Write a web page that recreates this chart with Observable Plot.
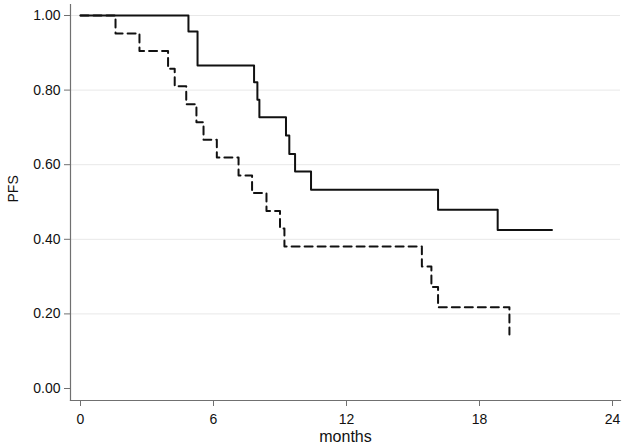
<!DOCTYPE html>
<html>
<head>
<meta charset="utf-8">
<script src="https://cdn.jsdelivr.net/npm/d3@7"></script>
<script src="https://cdn.jsdelivr.net/npm/@observablehq/plot@0.6"></script>
<style>
  html, body { margin: 0; padding: 0; background: #fff; }
  #chart { width: 628px; height: 446px; }
</style>
</head>
<body>
<div id="chart"></div>
<script>
// Kaplan–Meier PFS curves
const solidTimes = [0, 4.87, 5.28, 7.83, 7.98, 8.07, 9.27, 9.42, 9.68, 10.4, 16.13, 18.82, 21.27];
const solidSurv  = [1.00, 0.957, 0.866, 0.821, 0.774, 0.727, 0.678, 0.629, 0.582, 0.533, 0.479, 0.425, 0.425];

const dashedTimes = [0, 1.58, 2.66, 3.95, 4.25, 4.77, 5.23, 5.55, 6.15, 7.13, 7.74, 8.39, 9.0, 9.2, 15.4, 15.83, 16.13, 19.35];
const dashedSurv  = [1.00, 0.952, 0.905, 0.857, 0.810, 0.762, 0.714, 0.667, 0.619, 0.571, 0.524, 0.476, 0.429, 0.381, 0.327, 0.272, 0.218, 0.145];

const xTicks = [0, 6, 12, 18, 24];
const yTicks = [0, 0.2, 0.4, 0.6, 0.8, 1.0];
const yGrid  = [0.2, 0.4, 0.6, 0.8, 1.0];
const xTitle = "months";
const yTitle = "PFS";

const solid  = solidTimes.map((t, i) => ({t, s: solidSurv[i]}));
const dashed = dashedTimes.map((t, i) => ({t, s: dashedSurv[i]}));

const axisColor = "#707070";

const chart = Plot.plot({
  width: 628,
  height: 446,
  marginLeft: 70,
  marginRight: 8,
  marginTop: 4,
  marginBottom: 46,
  insetLeft: 10,
  insetRight: 8,
  insetTop: 11,
  insetBottom: 12,
  style: {fontFamily: "'Liberation Sans', Arial, sans-serif", fontSize: "14px", color: "#111", background: "#fff"},
  x: {domain: [0, 24]},
  y: {domain: [0, 1]},
  marks: [
    Plot.ruleY(yGrid, {stroke: "#e8e8e8", strokeWidth: 1}),
    Plot.frame({anchor: "left", stroke: axisColor, strokeWidth: 1.2}),
    Plot.frame({anchor: "bottom", stroke: axisColor, strokeWidth: 1.2}),
    Plot.axisY(yTicks, {
      tickFormat: d3.format(".2f"),
      tickSize: 6, tickPadding: 4,
      stroke: axisColor,
      fill: "#111",
      label: null
    }),
    Plot.axisX(xTicks, {
      tickSize: 6, tickPadding: 8,
      stroke: axisColor,
      fill: "#111",
      label: null
    }),
    Plot.text([xTitle], {frameAnchor: "bottom", dy: 36, fontSize: 16, fill: "#111", lineAnchor: "middle"}),
    Plot.text([yTitle], {frameAnchor: "left", dx: -57, rotate: -90, fontSize: 14, fill: "#111"}),
    Plot.line(dashed, {x: "t", y: "s", curve: "step-after", stroke: "#111", strokeWidth: 2, strokeDasharray: "8,5"}),
    Plot.line(solid, {x: "t", y: "s", curve: "step-after", stroke: "#111", strokeWidth: 2})
  ]
});
document.getElementById("chart").appendChild(chart);
</script>
</body>
</html>
